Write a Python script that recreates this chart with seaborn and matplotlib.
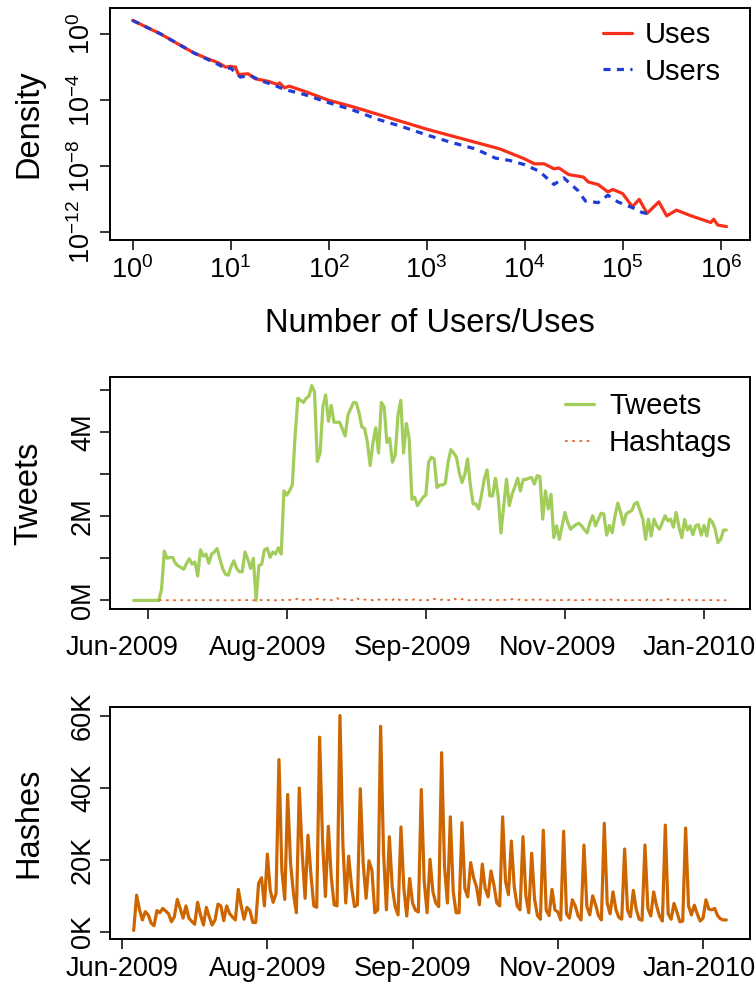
import matplotlib.pyplot as plt
import matplotlib.dates as mdates
import matplotlib.transforms as mtransforms
import seaborn as sns
import pandas as pd
import numpy as np

# ---- values (top panel in log10 units) ----
uses_logx = [0.00, 0.15, 0.29, 0.45, 0.63, 0.75, 0.88, 0.95, 1.00, 1.05, 1.08, 1.18, 1.25, 1.38,
             1.48, 1.50, 1.55, 1.60, 1.75, 2.00, 2.25, 2.50, 2.75, 3.00, 3.25, 3.50, 3.75, 4.00,
             4.10, 4.20, 4.30, 4.35, 4.45, 4.60, 4.65, 4.75, 4.85, 4.90, 5.00, 5.10, 5.17, 5.25,
             5.37, 5.45, 5.55, 5.70, 5.90, 5.93, 5.97, 6.06]
uses_logy = [0.83, 0.40, 0.00, -0.55, -1.15, -1.45, -1.75, -2.00, -1.95, -2.00, -2.45, -2.40, -2.70, -2.85,
             -3.05, -2.95, -3.25, -3.15, -3.45, -4.00, -4.40, -4.85, -5.30, -5.75, -6.15, -6.55, -6.95, -7.55,
             -7.85, -7.85, -8.15, -8.10, -8.50, -8.65, -8.95, -9.10, -9.55, -9.40, -9.65, -10.45, -10.00, -10.85,
             -10.15, -11.00, -10.65, -11.00, -11.40, -11.20, -11.55, -11.65]
users_logx = [0.00, 0.29, 0.63, 0.88, 0.95, 1.00, 1.10, 1.20, 1.30, 1.45, 1.55, 1.75, 2.00, 2.25,
              2.50, 2.75, 3.00, 3.25, 3.50, 3.70, 3.85, 4.00, 4.15, 4.30, 4.40, 4.55, 4.62, 4.75,
              4.85, 4.95, 5.10, 5.20, 5.30]
users_logy = [0.83, 0.00, -1.15, -1.85, -2.10, -2.05, -2.60, -2.50, -2.80, -3.10, -3.35, -3.65, -4.15, -4.60,
              -5.15, -5.60, -6.10, -6.55, -6.95, -7.50, -7.65, -7.90, -8.30, -9.10, -8.70, -9.50, -10.10, -10.20,
              -9.75, -10.15, -10.50, -10.80, -10.90]

# daily tweets (millions), starting 2009-06-10
tweets_m = [0, 0, 0, 0, 0, 0, 0, 0, 0, 0,
            0.26, 1.17, 1.0, 1.02, 1.02, 0.88, 0.82, 0.78, 0.74, 0.88,
            0.99, 0.86, 0.91, 0.58, 1.2, 1.05, 1.1, 0.88, 1.1, 1.15,
            1.23, 0.98, 0.75, 0.62, 0.6, 0.8, 0.94, 0.76, 0.68, 0.68,
            1.15, 0.98, 0.76, 1.0, 0.0, 0.83, 0.86, 1.2, 1.24, 1.02,
            1.15, 1.1, 1.25, 1.1, 2.6, 2.5, 2.6, 2.74, 3.9, 4.8,
            4.75, 4.7, 4.8, 4.85, 5.1, 4.95, 3.3, 3.5, 4.6, 4.88,
            4.25, 4.63, 4.23, 4.23, 4.23, 4.07, 3.9, 4.4, 4.55, 4.7,
            4.69, 4.45, 4.12, 4.08, 3.75, 3.2, 3.75, 4.1, 3.5, 4.7,
            4.6, 3.75, 3.85, 3.28, 3.45, 4.4, 4.75, 3.5, 4.2, 3.85,
            2.4, 2.45, 2.25, 2.35, 2.45, 2.5,
            3.28, 3.4, 3.36, 2.68, 2.74, 2.74, 2.78, 3.28, 3.58, 3.5,
            3.4, 3.04, 2.8, 2.99, 3.36, 2.74, 2.29, 2.29, 2.17, 2.5,
            2.88, 3.1, 2.48, 2.48, 2.9, 2.48, 1.6, 2.25, 2.88, 2.25,
            2.52, 2.7, 2.9, 2.6, 2.87, 2.87, 2.9, 2.92, 2.76, 2.96,
            2.94, 1.93, 2.6, 2.17, 2.52, 1.49, 1.77, 1.45, 1.77, 2.09,
            1.85, 1.69, 1.75, 1.8, 1.83, 1.77, 1.68, 1.6, 1.85, 2.01,
            1.77, 1.93, 2.07, 2.05, 1.55, 1.78, 1.61, 2.01, 2.31, 2.09,
            1.8, 2.05, 2.1, 2.13, 2.29, 2.33, 2.13, 1.93, 1.45, 1.93,
            1.53, 1.93, 1.77, 1.69, 1.85, 2.01, 1.89, 1.93, 1.74, 2.09,
            1.74, 1.49, 1.92, 1.67, 1.77, 1.56, 1.77, 1.8, 1.55, 1.78,
            1.53, 1.93, 1.86, 1.69, 1.37, 1.45, 1.67, 1.67]

# daily hashtags (thousands), starting 2009-06-19
hashes_k = [0.4, 10.2, 6.1, 3.3, 5.6, 4.7, 2.4, 1.7, 5.9, 5.3,
            6.5, 5.8, 5.0, 2.8, 4.2, 9.0, 6.5, 3.8, 7.2, 3.8,
            2.9, 2.1, 8.2, 4.7, 1.9, 6.8, 4.2, 1.9, 3.3, 7.7,
            7.2, 3.1, 7.2, 5.1, 4.1, 3.3, 11.8, 7.2, 3.5, 6.8,
            5.9, 2.6, 2.6, 13.5, 15.0, 7.2, 21.6, 11.5, 8.2, 10.6,
            47.8, 17.1, 9.0, 38.1, 19.0, 10.6, 5.3, 39.9, 21.8, 9.3, 26.8, 16.0, 7.2, 6.8,
            54.0, 25.4, 9.8, 29.3, 15.3, 7.5, 7.2,
            60.0, 24.5, 8.0, 21.0, 12.5, 7.0, 7.5,
            39.7, 19.0, 9.3, 19.7, 17.1, 5.3, 6.1,
            57.0, 22.0, 6.1, 26.4, 12.5, 7.0, 4.7,
            29.1, 12.0, 4.4, 14.8, 8.0, 6.0, 5.5,
            39.5, 14.0, 5.3, 20.1, 11.1, 8.0, 7.0,
            49.7, 18.0, 8.0, 31.9, 11.1, 5.3, 5.3,
            30.3, 12.0, 9.7, 19.2, 15.0, 12.5, 7.5,
            18.8, 12.0, 9.7, 16.9, 13.0, 8.0, 7.2,
            31.9, 14.0, 10.3, 25.2, 12.5, 7.2, 6.1,
            26.4, 10.0, 5.3, 21.8, 9.0, 4.5, 3.5,
            28.2, 6.0, 4.5, 11.8, 6.1, 5.5, 3.3,
            27.9, 5.0, 3.8, 8.9, 7.2, 4.4, 3.3,
            24.1, 7.0, 4.7, 10.0, 7.5, 4.5, 3.3,
            30.1, 8.0, 5.0, 11.1, 6.2, 4.0, 3.5,
            23.0, 6.0, 4.2, 11.5, 6.2, 3.5, 3.2,
            24.1, 6.5, 4.4, 11.1, 7.2, 4.4, 3.0,
            29.6, 5.0, 3.5, 7.9, 5.5, 2.8, 3.0,
            28.8, 7.2, 4.7, 7.4, 5.0, 3.0, 3.8,
            8.9, 6.3, 6.1, 6.5, 4.5, 3.6, 3.3, 3.3]

tweets_start = '2009-06-10'
hashes_start = '2009-06-19'
date_ticks = ['2009-06-15', '2009-08-04', '2009-09-23', '2009-11-12', '2010-01-01']

RED = '#F8301A'
BLUE = '#1E3CD6'
GREEN = '#A2CD5A'
ORANGE = '#CD6600'
ORANGE_LT = '#E0682B'

sns.set_theme(style='ticks')
plt.rcParams['font.family'] = ['Liberation Sans', 'DejaVu Sans']
plt.rcParams['mathtext.default'] = 'regular'
plt.rcParams['axes.linewidth'] = 1.4
for k in ['text.color', 'axes.labelcolor', 'xtick.color', 'ytick.color', 'axes.edgecolor']:
    plt.rcParams[k] = 'black'

TICK = 19.5
LAB = 23.5

df_uses = pd.DataFrame({'x': 10 ** np.array(uses_logx), 'y': 10 ** np.array(uses_logy)})
df_users = pd.DataFrame({'x': 10 ** np.array(users_logx), 'y': 10 ** np.array(users_logy)})
df_tw = pd.DataFrame({'date': pd.date_range(tweets_start, periods=len(tweets_m)), 'v': tweets_m})
df_h = pd.DataFrame({'date': pd.date_range(hashes_start, periods=len(hashes_k)), 'v': hashes_k})
df_h['m'] = df_h['v'] / 1000.0
tick_dates = pd.to_datetime(date_ticks)
tick_labels = [d.strftime('%b-%Y') for d in tick_dates]

fig = plt.figure(figsize=(7.56, 9.91), dpi=100)
W, H = 756.0, 991.0


def style_axes(ax):
    for s in ax.spines.values():
        s.set_visible(True)
        s.set_color('black')
        s.set_linewidth(1.4)
    ax.tick_params(direction='out', length=7, width=1.1, colors='black', labelsize=TICK)
    ax.grid(False)


# ---- top: density ----
ax1 = fig.add_axes([110 / W, 1 - 240 / H, 640 / W, 232 / H])
ax1.set_xscale('log')
ax1.set_yscale('log')
sns.lineplot(data=df_uses, x='x', y='y', ax=ax1, color=RED, lw=2.3, label='Uses')
sns.lineplot(data=df_users, x='x', y='y', ax=ax1, color=BLUE, lw=2.3, label='Users',
             linestyle=(0, (2.2, 2.0)))
ax1.set_xlim(10 ** -0.23, 10 ** 6.3)
ax1.set_ylim(10 ** -12.46, 10 ** 1.58)
ax1.minorticks_off()
ax1.set_xticks([10.0 ** k for k in range(7)], [r'$10^{%d}$' % k for k in range(7)])
ax1.set_yticks([1, 1e-4, 1e-8, 1e-12], [r'$10^{0}$', r'$10^{-4}$', r'$10^{-8}$', r'$10^{-12}$'],
               rotation=90, va='center')
style_axes(ax1)
ax1.tick_params(axis='x', pad=5)
ax1.tick_params(axis='y', pad=3)
ax1.set_xlabel('Number of Users/Uses', fontsize=LAB)
ax1.xaxis.set_label_coords(0.5, -0.295)
ax1.set_ylabel('Density', fontsize=LAB)
ax1.yaxis.set_label_coords(-0.102, 0.5)
ax1.legend(loc='upper right', bbox_to_anchor=(0.955, 0.945), frameon=False, fontsize=21,
           handlelength=1.0, handletextpad=0.45, labelspacing=0.3, borderaxespad=0, borderpad=0)

# ---- bottom: hashes (drawn before the middle so its date scale can be shared for labels) ----
ax3 = fig.add_axes([110 / W, 1 - 939 / H, 640 / W, 232 / H])
sns.lineplot(data=df_h, x='date', y='v', ax=ax3, color=ORANGE, lw=2.3)
ax3.margins(x=0.04, y=0.04)
ax3.set_xticks(tick_dates, tick_labels)
ax3.set_yticks([0, 20, 40, 60], ['0K', '20K', '40K', '60K'], rotation=90, va='center')
style_axes(ax3)
ax3.tick_params(axis='x', pad=5)
ax3.tick_params(axis='y', pad=3)
ax3.set_xlabel('')
ax3.set_ylabel('Hashes', fontsize=LAB)
ax3.yaxis.set_label_coords(-0.102, 0.5)
# keep the last label inside the figure edge
last = ax3.get_xticklabels()[-1]
last.set_transform(last.get_transform() + mtransforms.ScaledTranslation(-4 / 100, 0, fig.dpi_scale_trans))

# ---- middle: tweets ----
ax2 = fig.add_axes([110 / W, 1 - 609 / H, 640 / W, 232 / H])
sns.lineplot(data=df_tw, x='date', y='v', ax=ax2, color=GREEN, lw=2.3, label='Tweets')
sns.lineplot(data=df_h, x='date', y='m', ax=ax2, color=ORANGE_LT, lw=1.3, label='Hashtags',
             linestyle=(0, (1.5, 2.5)))
ax2.margins(x=0.04, y=0.04)
ax2.set_xticks(tick_dates, [''] * len(tick_dates))
ax2.set_yticks([0, 1, 2, 3, 4, 5], ['0M', '', '2M', '', '4M', ''], rotation=90, va='center')
style_axes(ax2)
ax2.tick_params(axis='y', pad=3)
ax2.set_xlabel('')
ax2.set_ylabel('Tweets', fontsize=LAB)
ax2.yaxis.set_label_coords(-0.102, 0.5)
ax2.legend(loc='upper right', bbox_to_anchor=(0.972, 0.935), frameon=False, fontsize=21,
           handlelength=1.0, handletextpad=0.5, labelspacing=0.3, borderaxespad=0, borderpad=0)
# in the reference the month labels of this panel sit where the lower panel puts them
lab_tr = mtransforms.blended_transform_factory(ax3.transData, ax2.transAxes)
for i, (d, lab) in enumerate(zip(mdates.date2num(tick_dates), tick_labels)):
    tr = lab_tr
    if i == len(tick_labels) - 1:
        tr = lab_tr + mtransforms.ScaledTranslation(-4 / 100, 0, fig.dpi_scale_trans)
    ax2.text(d, -0.112, lab, transform=tr, ha='center', va='top', fontsize=TICK, clip_on=False)

fig.savefig('out.png', dpi=100)
